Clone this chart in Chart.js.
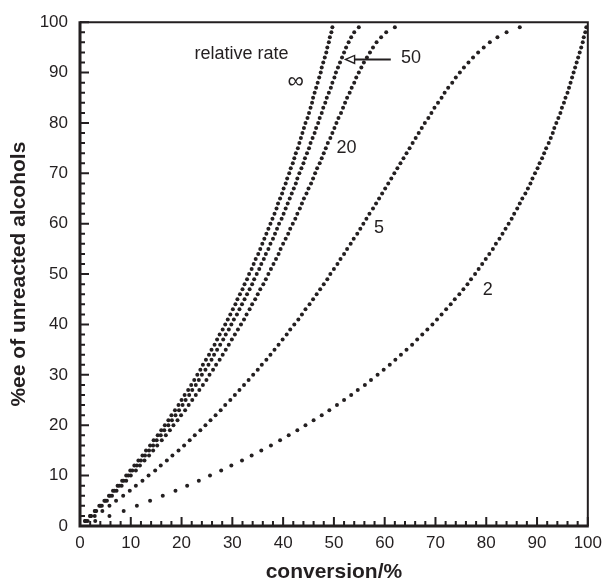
<!DOCTYPE html>
<html>
<head>
<meta charset="utf-8">
<script src="https://cdn.jsdelivr.net/npm/chart.js@4.4.1/dist/chart.umd.min.js"></script>
<style>
  html, body { margin: 0; padding: 0; background: #fff; }
  #wrap { width: 609px; height: 581px; }
</style>
</head>
<body>
<div id="wrap"><canvas id="eeChart"></canvas></div>
<script>
// ee of the unreacted alcohol (%), one dot per step
const EE = [
  1, 2, 3, 4, 5, 6, 7, 8, 9, 10,
  11, 12, 13, 14, 15, 16, 17, 18, 19, 20,
  21, 22, 23, 24, 25, 26, 27, 28, 29, 30,
  31, 32, 33, 34, 35, 36, 37, 38, 39, 40,
  41, 42, 43, 44, 45, 46, 47, 48, 49, 50,
  51, 52, 53, 54, 55, 56, 57, 58, 59, 60,
  61, 62, 63, 64, 65, 66, 67, 68, 69, 70,
  71, 72, 73, 74, 75, 76, 77, 78, 79, 80,
  81, 82, 83, 84, 85, 86, 87, 88, 89, 90,
  91, 92, 93, 94, 95, 96, 97, 98, 99
];

// conversion (%) read for each ee above, one list per relative rate
const CONV_INF = [
  1.0, 2.0, 2.9, 3.8, 4.8, 5.7, 6.5, 7.4, 8.3, 9.1,
  9.9, 10.7, 11.5, 12.3, 13.0, 13.8, 14.5, 15.3, 16.0, 16.7,
  17.4, 18.0, 18.7, 19.4, 20.0, 20.6, 21.3, 21.9, 22.5, 23.1,
  23.7, 24.2, 24.8, 25.4, 25.9, 26.5, 27.0, 27.5, 28.1, 28.6,
  29.1, 29.6, 30.1, 30.6, 31.0, 31.5, 32.0, 32.4, 32.9, 33.3,
  33.8, 34.2, 34.6, 35.1, 35.5, 35.9, 36.3, 36.7, 37.1, 37.5,
  37.9, 38.3, 38.7, 39.0, 39.4, 39.8, 40.1, 40.5, 40.8, 41.2,
  41.5, 41.9, 42.2, 42.5, 42.9, 43.2, 43.5, 43.8, 44.1, 44.4,
  44.8, 45.1, 45.4, 45.7, 45.9, 46.2, 46.5, 46.8, 47.1, 47.4,
  47.6, 47.9, 48.2, 48.5, 48.7, 49.0, 49.2, 49.5, 49.7
];
const CONV_50 = [
  1.0, 2.0, 3.0, 4.0, 5.0, 5.9, 6.8, 7.7, 8.6, 9.5,
  10.3, 11.2, 12.0, 12.8, 13.6, 14.4, 15.1, 15.9, 16.6, 17.4,
  18.1, 18.8, 19.5, 20.2, 20.8, 21.5, 22.1, 22.8, 23.4, 24.0,
  24.7, 25.3, 25.9, 26.4, 27.0, 27.6, 28.2, 28.7, 29.3, 29.8,
  30.3, 30.9, 31.4, 31.9, 32.4, 32.9, 33.4, 33.9, 34.3, 34.8,
  35.3, 35.7, 36.2, 36.6, 37.1, 37.5, 38.0, 38.4, 38.8, 39.2,
  39.7, 40.1, 40.5, 40.9, 41.3, 41.7, 42.1, 42.5, 42.8, 43.2,
  43.6, 44.0, 44.3, 44.7, 45.1, 45.4, 45.8, 46.2, 46.5, 46.9,
  47.2, 47.6, 47.9, 48.3, 48.6, 49.0, 49.4, 49.7, 50.1, 50.4,
  50.8, 51.2, 51.6, 52.0, 52.4, 52.9, 53.4, 54.0, 54.9
];
const CONV_20 = [
  1.1, 2.2, 3.2, 4.3, 5.3, 6.3, 7.2, 8.2, 9.1, 10.0,
  11.0, 11.8, 12.7, 13.6, 14.4, 15.2, 16.1, 16.9, 17.7, 18.4,
  19.2, 19.9, 20.7, 21.4, 22.1, 22.8, 23.5, 24.2, 24.9, 25.5,
  26.2, 26.8, 27.5, 28.1, 28.7, 29.3, 29.9, 30.5, 31.1, 31.7,
  32.3, 32.8, 33.4, 33.9, 34.5, 35.0, 35.5, 36.1, 36.6, 37.1,
  37.6, 38.1, 38.6, 39.1, 39.5, 40.0, 40.5, 41.0, 41.4, 41.9,
  42.4, 42.8, 43.3, 43.7, 44.1, 44.6, 45.0, 45.5, 45.9, 46.3,
  46.7, 47.2, 47.6, 48.0, 48.4, 48.8, 49.3, 49.7, 50.1, 50.5,
  50.9, 51.4, 51.8, 52.2, 52.6, 53.1, 53.5, 54.0, 54.4, 54.9,
  55.4, 55.9, 56.5, 57.1, 57.7, 58.4, 59.3, 60.3, 62.0
];
const CONV_5 = [
  1.5, 2.9, 4.4, 5.8, 7.1, 8.5, 9.8, 11.0, 12.3, 13.5,
  14.8, 15.9, 17.1, 18.2, 19.4, 20.5, 21.6, 22.6, 23.7, 24.7,
  25.7, 26.7, 27.7, 28.6, 29.6, 30.5, 31.4, 32.3, 33.2, 34.1,
  35.0, 35.8, 36.7, 37.5, 38.3, 39.1, 39.9, 40.7, 41.4, 42.2,
  43.0, 43.7, 44.4, 45.2, 45.9, 46.6, 47.3, 48.0, 48.7, 49.3,
  50.0, 50.7, 51.3, 52.0, 52.6, 53.3, 53.9, 54.6, 55.2, 55.8,
  56.4, 57.0, 57.7, 58.3, 58.9, 59.5, 60.1, 60.7, 61.3, 61.9,
  62.5, 63.1, 63.7, 64.3, 64.9, 65.5, 66.1, 66.7, 67.3, 67.9,
  68.6, 69.2, 69.8, 70.5, 71.2, 71.8, 72.5, 73.3, 74.0, 74.8,
  75.6, 76.5, 77.4, 78.4, 79.5, 80.7, 82.2, 84.0, 86.6
];
const CONV_2 = [
  3.0, 5.8, 8.6, 11.2, 13.8, 16.3, 18.8, 21.1, 23.4, 25.6,
  27.8, 29.8, 31.9, 33.8, 35.7, 37.6, 39.4, 41.1, 42.8, 44.4,
  46.0, 47.6, 49.1, 50.6, 52.0, 53.4, 54.7, 56.1, 57.3, 58.6,
  59.8, 61.0, 62.1, 63.2, 64.3, 65.4, 66.4, 67.4, 68.4, 69.4,
  70.3, 71.2, 72.1, 73.0, 73.8, 74.7, 75.5, 76.3, 77.0, 77.8,
  78.5, 79.2, 79.9, 80.6, 81.3, 81.9, 82.6, 83.2, 83.8, 84.4,
  85.0, 85.5, 86.1, 86.6, 87.1, 87.7, 88.2, 88.7, 89.1, 89.6,
  90.1, 90.5, 91.0, 91.4, 91.8, 92.3, 92.7, 93.1, 93.4, 93.8,
  94.2, 94.6, 94.9, 95.3, 95.6, 96.0, 96.3, 96.6, 96.9, 97.2,
  97.5, 97.8, 98.1, 98.4, 98.7, 99.0, 99.2, 99.5, 99.7
];

const SERIES_LABELS = ['\u221e', '50', '20', '5', '2'];
const SERIES_CONV = [CONV_INF, CONV_50, CONV_20, CONV_5, CONV_2];

// curve labels, placed in data units
const NOTE_TEXT = ['relative rate', '\u221e', '50', '20', '5', '2'];
const NOTE_SIZE = [18, 23, 18, 18, 18, 18];
const NOTE_X = [31.8, 42.5, 65.2, 52.5, 58.9, 80.3];
const NOTE_Y = [93.7, 88.1, 92.8, 75.0, 59.2, 46.8];
// arrow from the "50" label to its curve
const ARROW = { fromX: 61.2, toX: 52.3, y: 92.6 };

const AXIS_MIN = 0, AXIS_MAX = 100, MAJOR = 10, MINOR = 2;

const INK = '#231f20';
const FONT = "'Liberation Sans', Arial, Helvetica, sans-serif";

const frameAndNotes = {
  id: 'frameAndNotes',
  beforeDatasetsDraw(chart) {
    const { ctx, chartArea: a, scales } = chart;
    ctx.save();
    ctx.strokeStyle = INK;
    ctx.lineWidth = 2;
    ctx.beginPath();
    ctx.moveTo(a.left, a.top);
    ctx.lineTo(a.right, a.top);
    ctx.lineTo(a.right, a.bottom);
    ctx.stroke();

    ctx.lineWidth = 3;
    ctx.beginPath();
    ctx.moveTo(a.left, a.top - 1);
    ctx.lineTo(a.left, a.bottom);
    ctx.lineTo(a.right + 1, a.bottom);
    ctx.stroke();

    // ticks point inward, only on left and bottom
    ctx.lineWidth = 2;
    ctx.beginPath();
    for (let v = AXIS_MIN; v <= AXIS_MAX; v += MINOR) {
      const len = v % MAJOR === 0 ? 9 : 5;
      const px = scales.x.getPixelForValue(v);
      const py = scales.y.getPixelForValue(v);
      ctx.moveTo(px, a.bottom);
      ctx.lineTo(px, a.bottom - len);
      ctx.moveTo(a.left, py);
      ctx.lineTo(a.left + len, py);
    }
    ctx.stroke();
    ctx.restore();
  },
  afterDatasetsDraw(chart) {
    const { ctx, scales } = chart;
    ctx.save();
    ctx.fillStyle = INK;
    ctx.textAlign = 'center';
    ctx.textBaseline = 'middle';
    NOTE_TEXT.forEach((t, i) => {
      ctx.font = NOTE_SIZE[i] + 'px ' + FONT;
      ctx.fillText(t, scales.x.getPixelForValue(NOTE_X[i]), scales.y.getPixelForValue(NOTE_Y[i]));
    });

    const x0 = scales.x.getPixelForValue(ARROW.fromX);
    const x1 = scales.x.getPixelForValue(ARROW.toX);
    const ay = scales.y.getPixelForValue(ARROW.y);
    ctx.strokeStyle = INK;
    ctx.lineWidth = 2;
    ctx.beginPath();
    ctx.moveTo(x0, ay);
    ctx.lineTo(x1 + 9, ay);
    ctx.stroke();
    ctx.lineWidth = 1.4;
    ctx.beginPath();
    ctx.moveTo(x1, ay);
    ctx.lineTo(x1 + 9, ay - 4);
    ctx.lineTo(x1 + 9, ay + 4);
    ctx.closePath();
    ctx.stroke();
    ctx.restore();
  }
};

const datasets = SERIES_CONV.map((conv, i) => ({
  label: SERIES_LABELS[i],
  data: EE.map((ee, k) => ({ x: conv[k], y: ee })),
  pointRadius: 2,
  pointBorderWidth: 0,
  pointBackgroundColor: INK,
  showLine: false
}));

new Chart(document.getElementById('eeChart'), {
  type: 'scatter',
  data: { datasets },
  plugins: [frameAndNotes],
  options: {
    animation: false,
    responsive: true,
    maintainAspectRatio: false,
    layout: { padding: { top: 19, right: 16, bottom: 0, left: 0 } },
    plugins: {
      legend: { display: false },
      tooltip: { enabled: false }
    },
    scales: {
      x: {
        type: 'linear',
        min: AXIS_MIN,
        max: AXIS_MAX,
        ticks: { stepSize: MAJOR, color: INK, padding: 7, maxRotation: 0, font: { family: FONT, size: 17 } },
        grid: { display: false, drawTicks: false },
        border: { display: false },
        title: {
          display: true,
          text: 'conversion/%',
          color: INK,
          font: { family: FONT, size: 21, weight: 'bold' },
          padding: { top: 0, bottom: -4 }
        },
        afterFit: (scale) => { scale.height = 55; }
      },
      y: {
        type: 'linear',
        min: AXIS_MIN,
        max: AXIS_MAX,
        ticks: { stepSize: MAJOR, color: INK, padding: 12, font: { family: FONT, size: 17 } },
        grid: { display: false, drawTicks: false },
        border: { display: false },
        title: {
          display: true,
          text: '%ee of unreacted alcohols',
          color: INK,
          font: { family: FONT, size: 21, weight: 'bold' },
          padding: { top: 7, bottom: 0 }
        },
        afterFit: (scale) => { scale.width = 80; }
      }
    }
  }
});
</script>
</body>
</html>
